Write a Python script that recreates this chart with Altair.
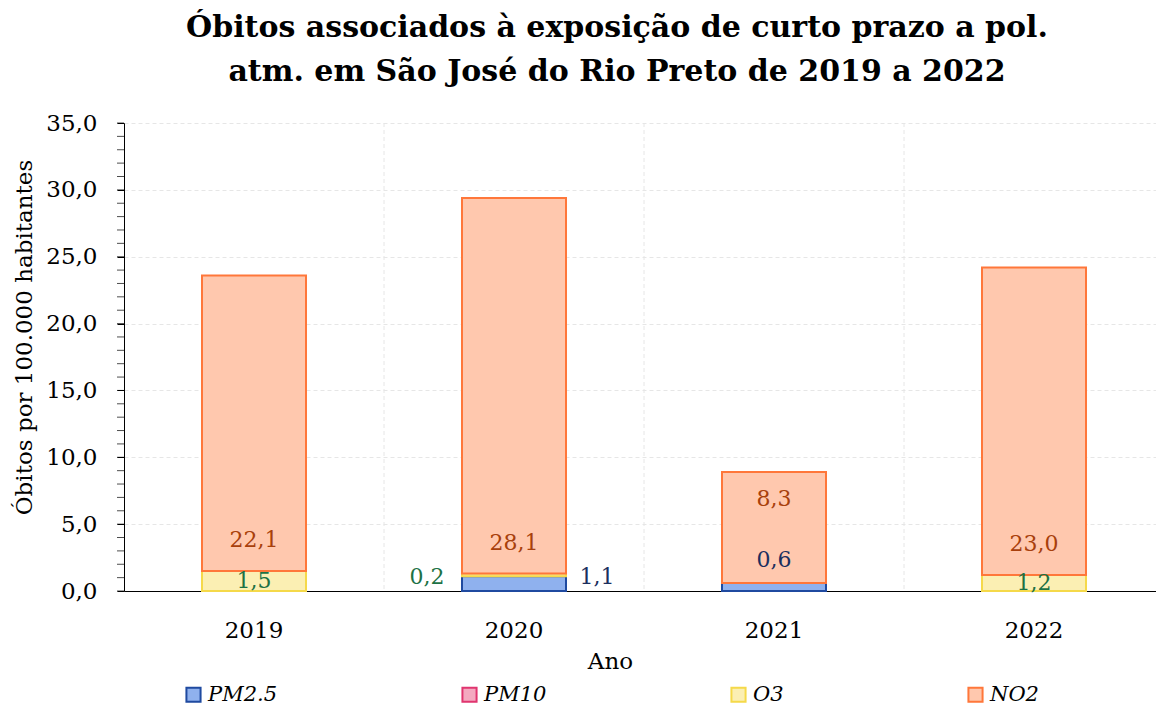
import altair as alt
import pandas as pd

years = ["2019", "2020", "2021", "2022"]
series = ["PM2.5", "PM10", "O3", "NO2"]
pm25 = [0.0, 1.1, 0.6, 0.0]
pm10 = [0.0, 0.0, 0.0, 0.0]
o3 = [1.5, 0.2, 0.0, 1.2]
no2 = [22.1, 28.1, 8.3, 23.0]

fills = ["#8fb1ee", "#f4a9c0", "#fbefb3", "#ffc8ae"]
strokes = ["#1f4aa0", "#e0356f", "#f5d94a", "#ff773a"]
label_colors = ["#1b2f5e", "#9b1c48", "#1d7245", "#a8400c"]

FONT = "DejaVu Serif"

values = {"PM2.5": pm25, "PM10": pm10, "O3": o3, "NO2": no2}

# label placement tweaks (value units / px) to mirror the reference label layout
label_adjust = {
    ("2020", "PM2.5"): {"dx": 83, "y": 1.05},
    ("2020", "O3"): {"dx": -87, "y": 1.05},
    ("2021", "PM2.5"): {"y": 2.3},
    ("2021", "NO2"): {"y": 6.9},
}

bar_rows = []
lab_rows = []
for i, yr in enumerate(years):
    base = 0.0
    for k, s in enumerate(series):
        v = values[s][i]
        if v > 0:
            bar_rows.append({"year": yr, "series": s, "y0": base, "y1": base + v, "ord": k})
            ly = base + min(v / 2, 2.3)
            adj = label_adjust.get((yr, s), {})
            ly = adj.get("y", ly)
            dx = adj.get("dx", 0)
            lab_rows.append({"year": yr, "series": s, "ly": ly, "dx": dx,
                             "txt": f"{v:.1f}".replace(".", ",")})
        base += v

bars_df = pd.DataFrame(bar_rows)
lab_df = pd.DataFrame(lab_rows)

xscale = alt.Scale(domain=years, paddingInner=0.6, paddingOuter=0.3)
yscale = alt.Scale(domain=[0, 35], nice=False)

bars = alt.Chart(bars_df).mark_bar(strokeWidth=2, opacity=1).encode(
    x=alt.X("year:N", scale=xscale, sort=years,
            axis=alt.Axis(title="Ano", orient="bottom", labelAngle=0, labelFont=FONT, labelFontSize=23,
                          labelColor="black", titleFont=FONT, titleFontSize=23,
                          titleFontWeight="normal", titleColor="black",
                          ticks=False, labelPadding=28, domainColor="black",
                          grid=False, titleX=486, titleY=59)),
    y=alt.Y("y0:Q", scale=yscale,
            axis=alt.Axis(title="Óbitos por 100.000 habitantes", values=[0, 5, 10, 15, 20, 25, 30, 35],
                          labelExpr="replace(format(datum.value, '.1f'), '.', ',')",
                          labelFont=FONT, labelFontSize=23, labelColor="black",
                          titleFont=FONT, titleFontSize=23, titleFontWeight="normal",
                          titleColor="black", tickColor="black", tickSize=7,
                          domainColor="black", gridDash=[4, 3], gridColor="#e6e6e6",
                          labelPadding=20, titleX=-88, titleY=214)),
    y2="y1:Q",
    fill=alt.Fill("series:N", scale=alt.Scale(domain=series, range=fills),
                  legend=alt.Legend(title=None, orient="none", direction="horizontal",
                                    legendX=59, legendY=561, columnPadding=180,
                                    labelFont=FONT, labelFontStyle="italic", labelFontSize=21,
                                    labelColor="black", symbolType="square", symbolSize=200,
                                    symbolStrokeWidth=2, labelOffset=4)),
    stroke=alt.Stroke("series:N", scale=alt.Scale(domain=series, range=strokes)),
    order=alt.Order("ord:Q"),
)

# vertical dashed grid lines at the category boundaries
boundaries = [1, 2, 3]
vgrid = alt.Chart(pd.DataFrame({"b": boundaries})).mark_rule(
    color="#e6e6e6", strokeDash=[4, 3], strokeWidth=1
).encode(
    x=alt.X("b:Q", scale=alt.Scale(domain=[0, len(years)], nice=False), axis=None),
)

minor = alt.Chart(pd.DataFrame({"t": list(range(0, 36))})).mark_tick(
    color="black", thickness=1, size=7
).encode(
    y=alt.Y("t:Q", scale=yscale),
    x=alt.value(-3.5),
)


def label_layer(df, dx):
    return alt.Chart(df).mark_text(font=FONT, fontSize=22, baseline="middle", dx=dx).encode(
        x=alt.X("year:N", scale=xscale, sort=years),
        y=alt.Y("ly:Q", scale=yscale),
        text="txt:N",
        color=alt.Color("series:N", scale=alt.Scale(domain=series, range=label_colors), legend=None),
    )


label_layers = [label_layer(lab_df[lab_df["dx"] == d], int(d)) for d in sorted(lab_df["dx"].unique())]

inner = alt.layer(bars, minor, *label_layers).resolve_scale(color="independent")

chart = alt.layer(vgrid, inner).resolve_scale(x="independent").properties(
    width=1040, height=468,
    autosize=alt.AutoSizeParams(type="none"),
    padding={"left": 116, "top": 115, "right": -8, "bottom": 114},
    title=alt.TitleParams(
        text=["Óbitos associados à exposição de curto prazo a pol.",
              "atm. em São José do Rio Preto de 2019 a 2022"],
        font=FONT, fontSize=30, fontWeight="bold", color="black",
        anchor="middle", dx=-27, offset=25, lineHeight=44,
    ),
).configure_view(stroke=None)

chart.save("out.html", embed_options={"renderer": "svg", "actions": False})
